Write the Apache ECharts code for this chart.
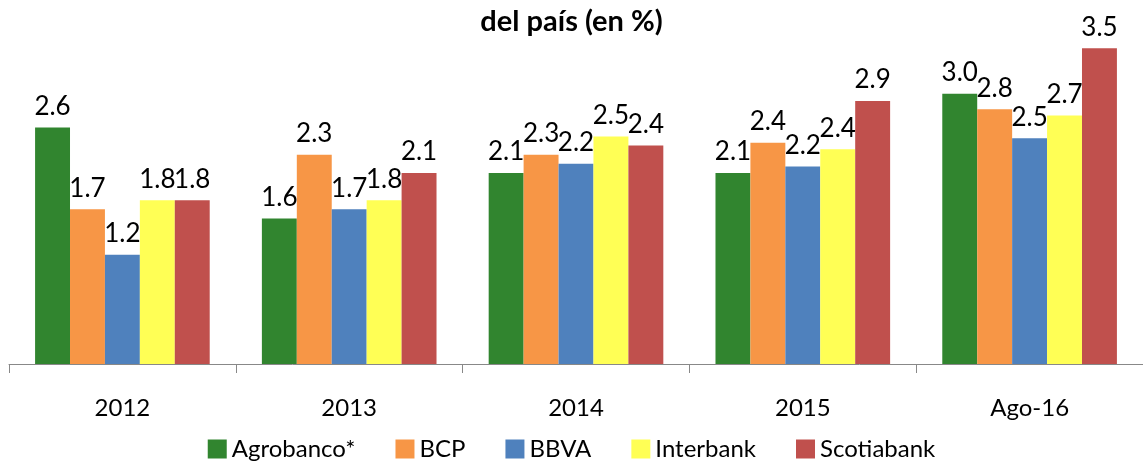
<!DOCTYPE html>
<html>
<head>
<meta charset="utf-8">
<script src="https://cdn.jsdelivr.net/npm/echarts@6/dist/echarts.min.js"></script>
<style>
html,body{margin:0;padding:0;background:#fff;}
#chart{width:1143px;height:466px;}
</style>
</head>
<body>
<div id="chart"></div>
<script>
var categories = ['2012', '2013', '2014', '2015', 'Ago-16'];
var agrobanco = [2.60, 1.60, 2.10, 2.10, 2.97];
var bcp = [1.70, 2.30, 2.30, 2.43, 2.80];
var bbva = [1.20, 1.70, 2.20, 2.17, 2.48];
var interbank = [1.80, 1.80, 2.50, 2.36, 2.73];
var scotiabank = [1.80, 2.10, 2.40, 2.89, 3.47];

var font = 'Lato, "Open Sans", sans-serif';

function bar(name, data, color) {
	return {
		name: name,
		type: 'bar',
		data: data,
		itemStyle: {color: color},
		barGap: '0%',
		barCategoryGap: '23%',
		label: {
			show: true,
			position: 'top',
			distance: 8,
			color: '#000',
			fontFamily: font,
			fontSize: 26,
			formatter: function(p) { return p.value.toFixed(1); }
		}
	};
}

var chart = echarts.init(document.getElementById('chart'));
var option = {
	animation: false,
	title: {
		text: 'del país (en %)',
		left: 'center',
		top: 2,
		textStyle: {fontFamily: font, fontSize: 29, fontWeight: 'bold', color: '#000'}
	},
	legend: {
		bottom: 0,
		left: 'center',
		itemWidth: 19,
		itemHeight: 19,
		itemGap: 40,
		icon: 'rect',
		textStyle: {fontFamily: font, fontSize: 24, color: '#000'},
		data: ['Agrobanco*', 'BCP', 'BBVA', 'Interbank', 'Scotiabank']
	},
	grid: {left: 9, top: 0, width: 1143, height: 364},
	xAxis: {
		type: 'category',
		data: categories,
		axisLine: {lineStyle: {color: '#888', width: 1}},
		axisTick: {show: true, length: 9, lineStyle: {color: '#888'}},
		axisLabel: {fontFamily: font, fontSize: 24, color: '#000', margin: 32}
	},
	yAxis: {
		type: 'value',
		min: 0,
		max: 4,
		show: false,
		splitLine: {show: false}
	},
	series: [
		bar('Agrobanco*', agrobanco, '#31852F'),
		bar('BCP', bcp, '#F79646'),
		bar('BBVA', bbva, '#4F81BD'),
		bar('Interbank', interbank, '#FFFF55'),
		bar('Scotiabank', scotiabank, '#C0504D')
	]
};
chart.setOption(option);
</script>
</body>
</html>
